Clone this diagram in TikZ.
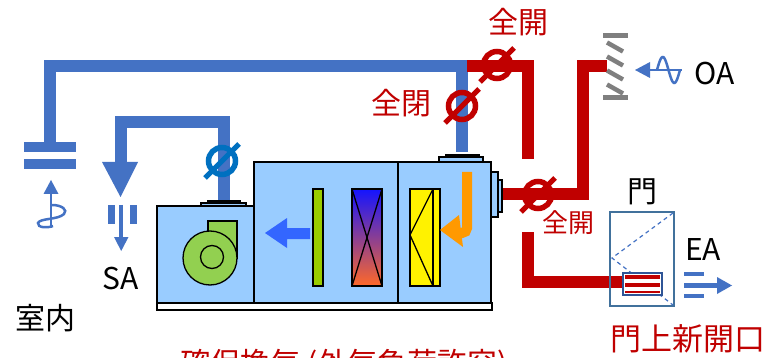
\documentclass[tikz,border=0pt]{standalone}
\usepackage{fontspec}
\setmainfont{Noto Sans CJK JP}
\definecolor{ductblue}{RGB}{68,114,196}
\definecolor{dampblue}{RGB}{0,112,192}
\definecolor{ductred}{RGB}{192,0,0}
\definecolor{boxblue}{RGB}{153,204,255}
\definecolor{fangreen}{RGB}{146,208,80}
\definecolor{filtgreen}{RGB}{153,204,0}
\definecolor{flowblue}{RGB}{51,102,255}
\definecolor{flowora}{RGB}{255,153,0}
\definecolor{louvgray}{RGB}{127,127,127}
\definecolor{doorline}{RGB}{65,113,156}
\definecolor{grilline}{RGB}{47,85,151}
\newcommand\sizept[1]{\fontsize{#1}{#1}\selectfont}
\tikzset{
  duct/.style={line width=12pt, line cap=butt, line join=miter},
  unit/.style={draw=black, line width=1.5pt, fill=boxblue},
  part/.style={draw=black, line width=1.3pt},
  lbl/.style={inner sep=0pt, font=\sizept{30}},
  redlbl/.style={lbl, text=ductred},
  damper/.pic={
    \draw[line width=5.5pt] (0,0) circle (13.5);
    \draw[line width=5pt] (-17,17) -- (17,-17);
  },
  louverbar/.style={line width=4.5pt, draw=louvgray},
  symline/.style={line width=2.5pt, draw=ductblue}
}
\begin{document}
\begin{tikzpicture}[x=1pt,y=-1pt]
\clip (0,0) rectangle (776,358);
\fill[white] (0,0) rectangle (776,358);

% ---- return air duct (blue) and room grille ----
\draw[duct, ductblue] (50,142) -- (50,66) -- (467,66);
\draw[duct, ductblue] (461.5,66) -- (461.5,152);
\fill[ductblue] (24,142) rectangle (76,152);
\fill[ductblue] (24,159) rectangle (76,169);
% rising air symbol under the grille
\draw[symline] (51,228) -- (51,192);
\fill[ductblue] (51,180) -- (58.5,194) -- (43.5,194) -- cycle;
\draw[symline] (52,205) .. controls (62,205) and (68,210) .. (64,214)
  .. controls (58,220) and (40,218) .. (38,223)
  .. controls (37,228) and (48,228) .. (53,226);

% ---- supply air duct (blue) ----
\draw[duct, ductblue] (223.5,200) -- (223.5,122.5) -- (120.5,122.5) -- (120.5,164);
\fill[ductblue] (102,162) -- (138,162) -- (120.5,197) -- cycle;
\fill[ductblue] (108,205) rectangle (114.5,224);
\fill[ductblue] (130,205) rectangle (136.5,224);
\draw[ductblue, line width=4.5pt] (121,205) -- (121,240);
\fill[ductblue] (114,237) -- (128.5,237) -- (121.2,251) -- cycle;
\pic[color=dampblue] at (222,161) {damper};

% ---- outdoor air / exhaust ducts (red) ----
\draw[duct, ductred] (467,66) -- (527.5,66) -- (527.5,159);
\draw[duct, ductred] (500,194) -- (582.5,194) -- (582.5,66.5) -- (607,66.5);
\draw[duct, ductred] (527.5,232) -- (527.5,282) -- (624,282);
\pic[color=ductred] at (497,65) {damper};
\pic[color=ductred] at (462,106) {damper};
\pic[color=ductred] at (538,195) {damper};

% ---- outdoor air louver ----
\fill[louvgray] (603,33) rectangle (628,38);
\fill[louvgray] (603,95) rectangle (628,100);
\foreach \yc in {47,61,75,89}
  \draw[louverbar] (607,\yc-4.5) -- (623,\yc+4.5);
% incoming outdoor air symbol
\draw[symline] (648,70) -- (682,70);
\fill[ductblue] (635,70) -- (650,62) -- (650,78) -- cycle;
\draw[symline, domain=0:1, samples=40, variable=\t]
  plot ({657+23*\t}, {70-13*sin(360*\t)});

% ---- air handling unit ----
\draw[unit] (157,206) rectangle (254,303);
\draw[unit] (254,162) rectangle (398,303);
\draw[unit] (398,162) rectangle (491,303);
\draw[part, fill=white] (157,303) rectangle (492,310);
% duct collars
\draw[part, fill=boxblue] (201,203) rectangle (246,206);
\draw[part, fill=boxblue] (208,201) rectangle (240,203);
\draw[part, fill=boxblue] (439,157) rectangle (483,162);
\draw[part, fill=boxblue] (446,155) rectangle (479,157);
\draw[part, fill=boxblue] (491,172) rectangle (498,217);
\draw[part, fill=boxblue] (498,180) rectangle (502,212);
% fan
\draw[part, fill=fangreen] (208,221) rectangle (237,258);
\draw[part, fill=fangreen] (210,258) circle (27);
\draw[part] (212,257) circle (11.5);
% supply flow arrow
\fill[flowblue] (265,233) -- (287,218) -- (287,228) -- (310,228) -- (310,239)
  -- (287,239) -- (287,248) -- cycle;
% filter
\draw[part, fill=filtgreen] (313,189) rectangle (323,286);
% coil
\shade[top color={rgb,255:red,20;green,20;blue,255},
       middle color={rgb,255:red,200;green,80;blue,170},
       bottom color={rgb,255:red,255;green,105;blue,40}]
  (352,189) rectangle (382,286);
\draw[part] (352,189) rectangle (382,286);
\draw[part] (352,189) -- (382,286) (382,189) -- (352,286);
% pre-filter
\draw[part, fill=yellow] (410,189) rectangle (440,286);
\draw[part] (433,189) -- (433,286);
\draw[part] (433,189) -- (410,235) -- (433,286);
% incoming flow arrow
\draw[flowora, line width=10pt, rounded corners=5pt] (467,172) -- (467,233) -- (452,233);
\fill[flowora] (440,230) -- (459,215) -- (463,247) -- cycle;

% ---- door with new opening ----
\draw[doorline, line width=2pt] (610,212) rectangle (674,306);
\draw[ductblue, line width=1.2pt, dash pattern=on 4pt off 3.5pt] (673,213) -- (612,258) -- (673,305);
\draw[grilline, fill=white, line width=2.5pt] (623,273) rectangle (662,295);
\fill[ductred] (625,275) rectangle (660,278.5);
\fill[ductred] (625,283) rectangle (660,286.5);
\fill[ductred] (625,290.5) rectangle (660,293);
% exhaust air symbol
\fill[ductblue] (684,272) rectangle (704,276);
\fill[ductblue] (684,283) rectangle (718,288);
\fill[ductblue] (684,293.5) rectangle (704,297.5);
\fill[ductblue] (717,277) -- (732,285.5) -- (717,294) -- cycle;

% ---- labels ----
\node[redlbl] (lopen1) at (518,22) {全開};
\node[redlbl] (lclose) at (401,103) {全閉};
\node[redlbl, font=\sizept{26}] (lopen2) at (568,223) {全開};
\node[lbl] (ldoor) at (642,192) {門};
\node[lbl] (lea) at (703,250) {EA};
\node[lbl] (loa) at (715,74) {OA};
\node[lbl] (lsa) at (121,279) {SA};
\node[lbl] (lroom) at (46,318) {室内};
\node[redlbl, font=\sizept{31}] (lnew) at (688,339) {門上新開口};
\node[redlbl, anchor=base] (lcap) at (344,374) {確保換気 (外気負荷許容)};
\end{tikzpicture}
\end{document}
